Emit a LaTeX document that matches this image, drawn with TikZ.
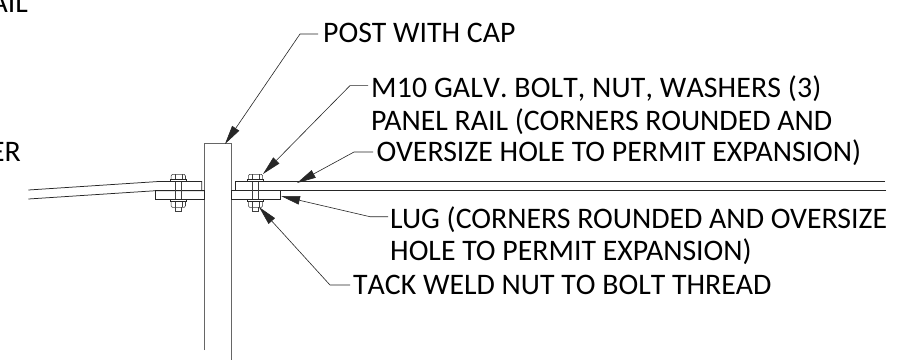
\documentclass[tikz,border=0pt]{standalone}
\usepackage{fontspec}
\setmainfont{Carlito}
\newfontfamily\nokern[Kerning=Off]{Carlito}
\newfontfamily\widekern[Kerning=Off,LetterSpace=0.45]{Carlito}
\usetikzlibrary{arrows.meta}
\begin{document}
\begin{tikzpicture}[x=1pt,y=-1pt,
  lbl/.style={inner sep=0pt,anchor=base west,font=\fontsize{29.8}{32}\selectfont,text=black},
  lble/.style={inner sep=0pt,anchor=base east,font=\fontsize{29.8}{32}\selectfont,text=black},
  part/.style={draw=black!85,line width=0.75pt},
  thinpart/.style={draw=black!75,line width=0.55pt},
  postl/.style={draw=black!60,line width=1pt},
  leader/.style={draw=black!85,line width=0.6pt,-{Triangle[length=19pt,width=8.5pt]}}]
\useasboundingbox (0,0) rectangle (907,360);
\fill[white] (0,0) rectangle (907,360);
% text
\node[lble] (t0) at (28,12.7) {AIL};
\node[lble] (t00) at (21,161.6) {ER};
\node[lbl] (t1) at (323,42.7) {POST WITH CAP};
\node[lbl] (t2) at (371,97.8) {\widekern M10 GALV. BOLT, NUT, WASHERS (3)};
\node[lbl] (t3) at (371,130.5) {PANEL RAIL (CORNERS ROUNDED AND};
\node[lbl] (t4) at (376.5,161.5) {OVERSIZE HOLE TO PERMIT EXPANSION)};
\node[lbl] (t5) at (390,228) {LUG (CORNERS ROUNDED AND OVERSIZE};
\node[lbl] (t6) at (390,260.7) {HOLE TO PERMIT EXPANSION)};
\node[lbl] (t7) at (353,294) {\nokern TACK WELD NUT TO BOLT THREAD};
% post
\draw[postl] (204.7,350) -- (204.7,143.7) -- (231.4,143.7) -- (231.4,360);
% right rail
\draw[part] (885,181.6) -- (235,181.6) -- (235,190.5);
\draw[part] (886,190.5) -- (235,190.5);
% right lug
\draw[part] (231.5,190.7) rectangle (280.7,199.3);
% left rail
\draw[part] (28.3,190) -- (160,181.4) -- (201.7,181.4) -- (201.7,190.5);
\draw[part] (28.3,199) -- (155.7,190.7) -- (204.7,190.7);
\draw[part] (155.7,190.7) rectangle (204.7,199.3);
\foreach \cx in {178.3,255.5}{
 \begin{scope}[shift={(\cx,0)}]
  \draw[thinpart] (-7.2,176) -- (-6,174.3) -- (6,174.3) -- (7.2,176) -- (7.2,179.7) -- (-7.2,179.7) -- cycle;
  \draw[thinpart] (-3.5,174.3) -- (-3.5,179.7) (3.5,174.3) -- (3.5,179.7);
  \draw[part] (-8,179.8) rectangle (8,181.6);
  \draw[thinpart] (-2.8,181.6) -- (-2.8,199.7) (2.8,181.6) -- (2.8,199.7);
  \draw[part] (-8,199.5) rectangle (8,201.6);
  \draw[thinpart] (-7.2,201.6) -- (-7.2,205.7) -- (-6,207.3) -- (6,207.3) -- (7.2,205.7) -- (7.2,201.6);
  \draw[thinpart] (-3.5,201.6) -- (-3.5,207.3) (3.5,201.6) -- (3.5,207.3);
  \draw[thinpart] (-2.8,207.3) -- (-2.8,211.7) -- (2.8,211.7) -- (2.8,207.3);
 \end{scope}
}
% leaders
\coordinate (k1) at (318,34);
\coordinate (k2) at (368,85.6);
\coordinate (k4) at (373,152);
\coordinate (k5) at (388,216.7);
\coordinate (k7) at (350,285);
\draw[leader] (k1) -- (300,34) -- (225,144);
\draw[leader] (k2) -- (350,85.6) -- (263,174);
\draw[leader] (k4) -- (354,152) -- (297,183);
\draw[leader] (k5) -- (370,216.7) -- (281,196);
\draw[leader] (k7) -- (330,285) -- (259,207);
\end{tikzpicture}
\end{document}
